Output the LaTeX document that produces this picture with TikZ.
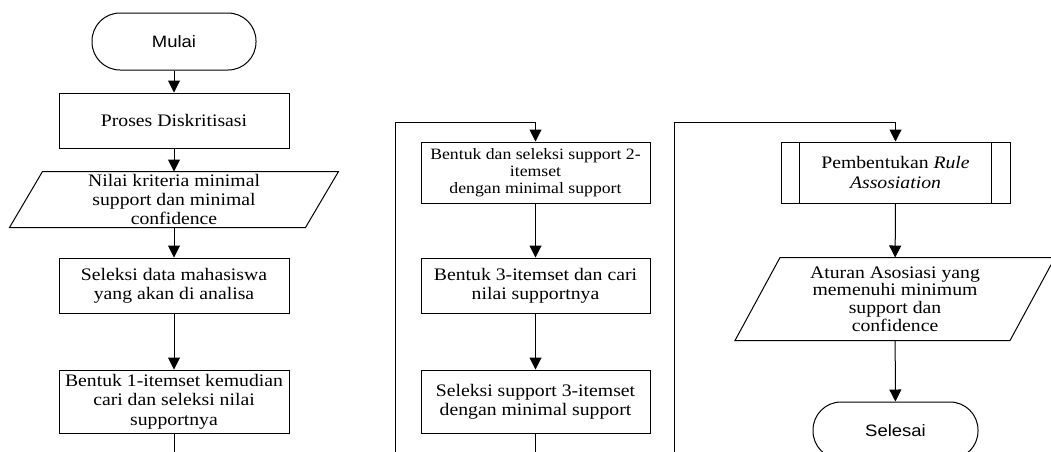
\documentclass[tikz,border=0pt]{standalone}
\usepackage{fontspec}
\setmainfont{Liberation Serif}[FakeStretch=1.12]
\setsansfont{Liberation Sans}[FakeStretch=1.12]
\usetikzlibrary{arrows.meta,calc}
\begin{document}
\begin{tikzpicture}[x=1pt,y=-1pt,
  line width=1pt,
  every node/.style={inner sep=0pt, align=center},
  txt/.style={font=\fontsize{17.6}{19.3}\selectfont},
  stxt/.style={font=\fontsize{15.8}{16.9}\selectfont},
  term/.style={draw, rounded corners=28pt, minimum width=164pt, minimum height=57pt, font=\sffamily\fontsize{16.5}{18}\selectfont},
  procbox/.style={draw, minimum width=230pt, txt},
  arr/.style={-{Triangle[width=12pt,length=12pt]}},
]
\useasboundingbox (0,0) rectangle (1051,451);

% column 1
\node[term] (mulai) at (174,41.5) {Mulai};
\node[procbox, minimum height=55pt] (proses) at (174,120.5) {Proses Diskritisasi};
\node[minimum width=328pt, minimum height=55pt, txt] (input) at (174,199.5) {Nilai kriteria minimal\\support dan minimal\\confidence};
\draw ($(input.north west)+(33,0)$) -- (input.north east) -- ($(input.south east)-(33,0)$) -- (input.south west) -- cycle;
\node[procbox, minimum height=55pt] (seleksi) at (174,285.5) {Seleksi data mahasiswa\\yang akan di analisa};
\node[procbox, minimum height=63pt] (bentuk1) at (174,401.5) {Bentuk 1-itemset kemudian\\cari dan seleksi nilai\\supportnya};
\coordinate (c1end) at (174,460);

\draw[arr] (mulai) -- (proses);
\draw[arr] (proses) -- (input);
\draw[arr] (input) -- (seleksi);
\draw[arr] (seleksi) -- (bentuk1);
\draw (bentuk1) -- (c1end);

% column 2
\coordinate (c2start) at (395,460);
\node[draw, minimum width=229pt, minimum height=61pt, stxt] (bentuk2) at (535.5,172.5) {Bentuk dan seleksi support 2-\\itemset\\dengan minimal support};
\node[procbox, minimum width=229pt, minimum height=55pt] (bentuk3) at (535.5,285.5) {Bentuk 3-itemset dan cari\\nilai supportnya};
\node[procbox, minimum width=229pt, minimum height=63pt] (seleksi3) at (535.5,401.5) {Seleksi support 3-itemset\\dengan minimal support};
\coordinate (c2end) at (535.5,460);

\draw[arr] (c2start) -- (395,122) -| (bentuk2.north);
\draw[arr] (bentuk2) -- (bentuk3);
\draw[arr] (bentuk3) -- (seleksi3);
\draw (seleksi3) -- (c2end);

% column 3
\coordinate (c3start) at (674,460);
\node[draw, minimum width=229pt, minimum height=61pt, txt] (rule) at (895.5,172.5) {Pembentukan \textit{Rule}\\\textit{Assosiation}};
\draw ($(rule.north west)+(19,0)$) -- ($(rule.south west)+(19,0)$);
\draw ($(rule.north east)-(19,0)$) -- ($(rule.south east)-(19,0)$);
\node[minimum width=319pt, minimum height=82pt, font=\fontsize{17.6}{17.8}\selectfont] (output) at (895,299) {Aturan Asosiasi yang\\memenuhi minimum\\support dan\\confidence};
\draw ($(output.north west)+(45,0)$) -- (output.north east) -- ($(output.south east)-(45,0)$) -- (output.south west) -- cycle;
\node[term, minimum width=165pt] (selesai) at (895.5,430.5) {Selesai};

\draw[arr] (c3start) -- (674,122) -| (rule.north);
\draw[arr] (rule) -- (output);
\draw[arr] (output) -- (selesai);
\end{tikzpicture}
\end{document}
